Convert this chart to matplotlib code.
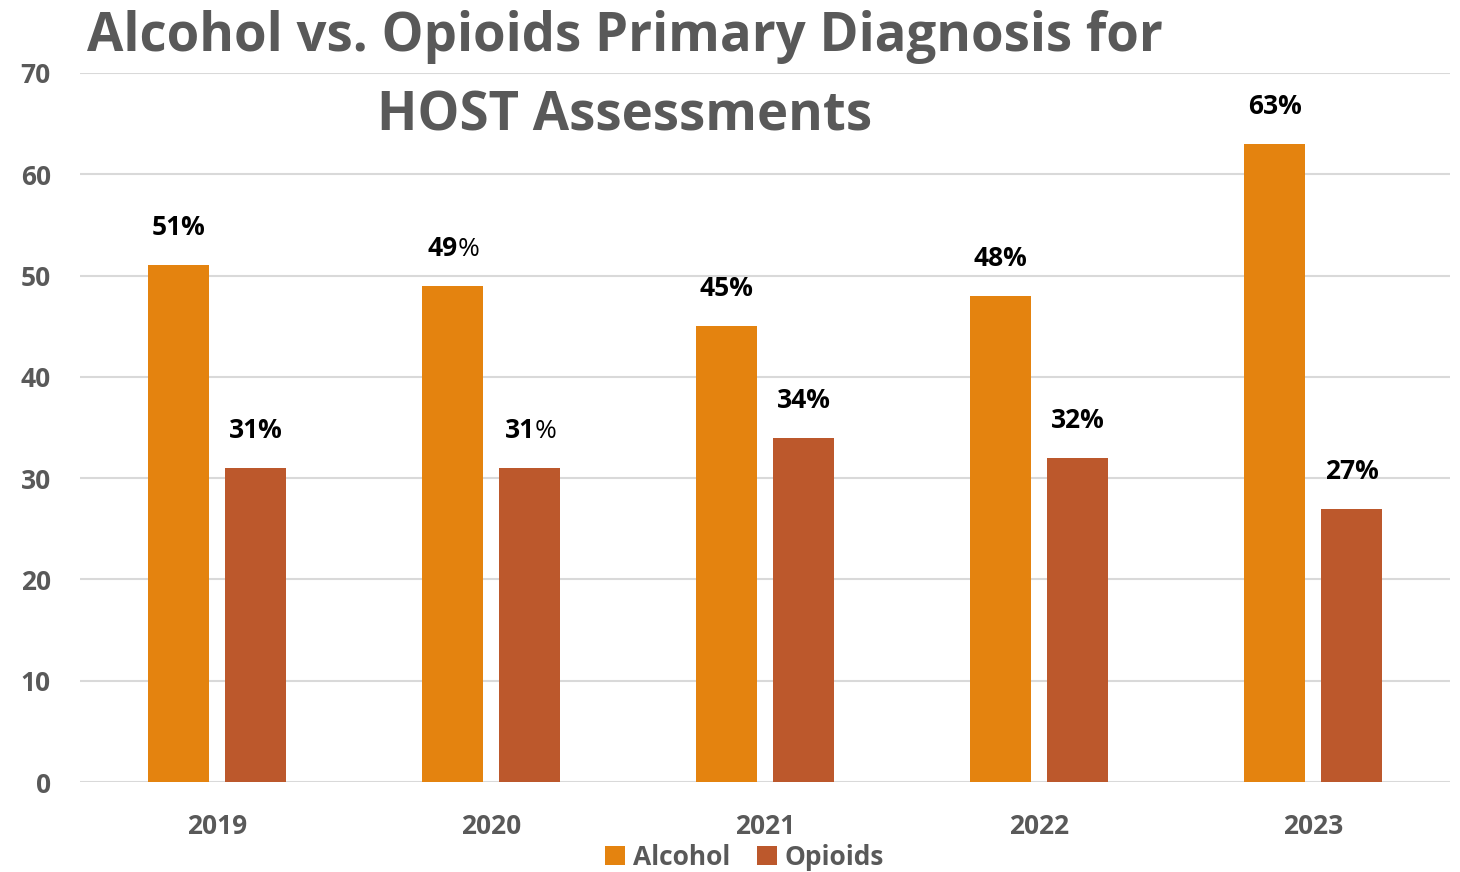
import numpy as np
import matplotlib.pyplot as plt

# datos del grafico
years = ['2019', '2020', '2021', '2022', '2023']
alcohol = [51, 49, 45, 48, 63]
opioids = [31, 31, 34, 32, 27]
# en el original el "%" de 2020 no sale en negrita
pct_bold_alc = [True, False, True, True, True]
pct_bold_opi = [True, False, True, True, True]

plt.rcParams['font.family'] = ['Open Sans', 'DejaVu Sans']

c_alc = '#E4830F'
c_opi = '#BC582C'
gris = '#595959'

fig = plt.figure(figsize=(14.6, 8.72), dpi=100)
ax = fig.add_axes([0.0548, 0.1032, 0.9384, 0.8131])

x = np.arange(len(years))
w = 0.223
off = 0.1405
ax.bar(x - off, alcohol, w, color=c_alc, label='Alcohol', zorder=3)
ax.bar(x + off, opioids, w, color=c_opi, label='Opioids', zorder=3)

def etiqueta(xp, val, negrita):
    if negrita:
        ax.annotate(f'{val}%', (xp, val), xytext=(0, 27), textcoords='offset points',
                    ha='center', va='center', fontsize=19, fontweight='bold', color='black')
    else:
        t = ax.annotate(f'{val}', (xp, val), xytext=(-7, 27), textcoords='offset points',
                        ha='center', va='center', fontsize=19, fontweight='bold', color='black')
        ax.annotate('%', xy=(1, 0), xycoords=t, ha='left', va='bottom',
                    fontsize=19, fontweight='normal', color='black')

for i in range(len(years)):
    etiqueta(x[i] - off, alcohol[i], pct_bold_alc[i])
    etiqueta(x[i] + off, opioids[i], pct_bold_opi[i])

ax.set_xlim(-0.5, 4.5)
ax.set_ylim(0, 70)
ax.set_yticks(range(0, 71, 10))
ax.set_xticks(x)
ax.set_xticklabels(years)
ax.grid(axis='y', color='#D9D9D9', linewidth=1.5, zorder=0)
for s in ax.spines.values():
    s.set_visible(False)
ax.tick_params(length=0, labelsize=19, labelcolor=gris)
ax.tick_params(axis='x', pad=22)
ax.tick_params(axis='y', pad=21)
for t in ax.get_xticklabels() + ax.get_yticklabels():
    t.set_fontweight('bold')

fig.text(0.428, 0.912, 'Alcohol vs. Opioids Primary Diagnosis for\nHOST Assessments',
         ha='center', va='center', fontsize=38, fontweight='bold', color=gris,
         linespacing=1.6, multialignment='center')

leg = fig.legend(loc='center', bbox_to_anchor=(0.51, 0.017), ncol=2, frameon=False,
                 fontsize=19, handlelength=0.75, handleheight=0.75, handletextpad=0.3,
                 columnspacing=1.0)
for t in leg.get_texts():
    t.set_color(gris)
    t.set_fontweight('bold')

plt.savefig('out.png', dpi=100)
